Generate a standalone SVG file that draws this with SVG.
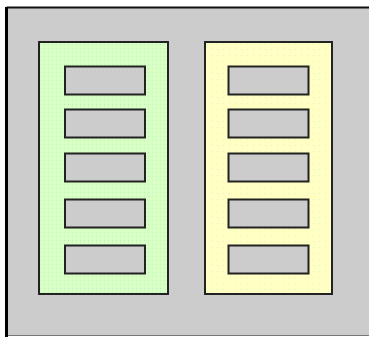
<svg xmlns="http://www.w3.org/2000/svg" width="369" height="337" viewBox="0 0 369 337">
<style>
.panel{stroke:#222;stroke-width:2}
.slot{fill:#cccccc;stroke:#222;stroke-width:2}
</style>
<defs>
<pattern id="pg" width="4" height="4" patternUnits="userSpaceOnUse">
<rect width="4" height="4" fill="#d6ffc4"/>
<rect x="0" y="0" width="1" height="1" fill="#c0f0c0"/>
<rect x="2" y="2" width="1" height="1" fill="#eeffcc"/>
</pattern>
<pattern id="py" width="6" height="6" patternUnits="userSpaceOnUse">
<rect width="6" height="6" fill="#ffffc4"/>
<rect x="1" y="1" width="1" height="1" fill="#d8f8c0"/>
</pattern>
</defs>
<rect x="0" y="0" width="369" height="337" fill="#ffffff"/>
<g id="frame">
<rect x="7" y="8" width="364" height="327" fill="#cccccc"/>
<line x1="6.5" y1="7.5" x2="369" y2="7.5" stroke="#111" stroke-width="2"/>
<line x1="6.5" y1="7" x2="6.5" y2="337" stroke="#000" stroke-width="3"/>
<line x1="8" y1="335.5" x2="369" y2="335.5" stroke="#777" stroke-width="1"/>
</g>
<g id="panel-green">
<rect class="panel" x="39" y="42" width="129" height="252" fill="url(#pg)"/>
<rect class="slot" x="65" y="66.5" width="80" height="28"/>
<rect class="slot" x="65" y="109.5" width="80" height="28"/>
<rect class="slot" x="65" y="153.5" width="80" height="28"/>
<rect class="slot" x="65" y="199.5" width="80" height="28"/>
<rect class="slot" x="65" y="245.5" width="80" height="28"/>
</g>
<g id="panel-yellow">
<rect class="panel" x="205" y="42" width="127" height="252" fill="url(#py)"/>
<rect class="slot" x="228.5" y="66.5" width="80" height="28"/>
<rect class="slot" x="228.5" y="109.5" width="80" height="28"/>
<rect class="slot" x="228.5" y="153.5" width="80" height="28"/>
<rect class="slot" x="228.5" y="199.5" width="80" height="28"/>
<rect class="slot" x="228.5" y="245.5" width="80" height="28"/>
</g>
<g id="connectors"/>
</svg>
